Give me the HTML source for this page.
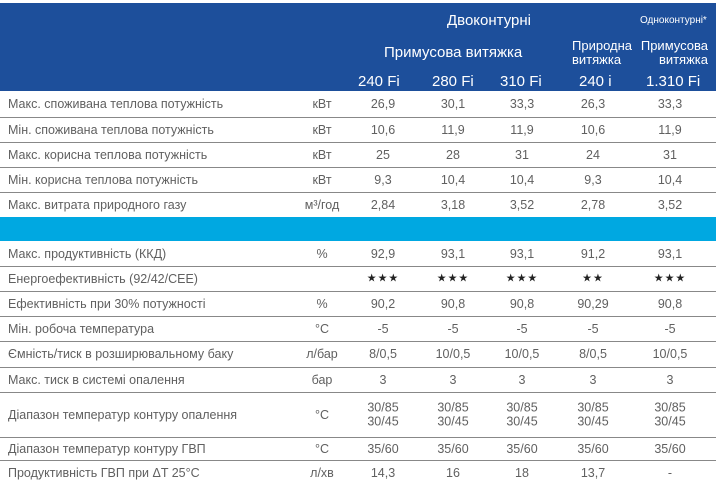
<!DOCTYPE html>
<html><head><meta charset="utf-8"><style>
body{margin:0;width:716px;height:485px;background:#fff;overflow:hidden;position:relative;font-family:"Liberation Sans","DejaVu Sans",sans-serif;}
.hd{position:absolute;left:0;top:3px;width:716px;height:88px;background:#1d4f9b;color:#fff;}
.hd span{position:absolute;white-space:nowrap;line-height:1;}
.r{position:absolute;left:0;width:716px;color:#606060;font-size:12.5px;}
.r span{position:absolute;top:50%;transform:translateY(-50%);white-space:nowrap;line-height:1.15;}
.l{left:8px;}
.u{left:292px;width:60px;text-align:center;}
.v{width:70px;text-align:center;}
.ln{position:absolute;left:0;width:716px;height:1px;background:#888;}
.st{font-size:11px;color:#222;letter-spacing:1px;}
</style></head><body>
<div class="hd">
<span style="left:447px;top:10px;font-size:15px;">Двоконтурні</span>
<span style="left:640px;top:13px;font-size:10px;">Одноконтурні*</span>
<span style="left:384px;top:42px;font-size:15px;">Примусова витяжка</span>
<span style="left:572px;top:36px;font-size:13px;text-align:right;width:42px;line-height:1.1;">Природна<br>витяжка</span>
<span style="left:646px;top:36px;font-size:13px;text-align:right;width:62px;line-height:1.1;direction:rtl;">Примусова<br>витяжка</span>
<span style="left:358px;top:71px;font-size:15px;">240 Fi</span>
<span style="left:432px;top:71px;font-size:15px;">280 Fi</span>
<span style="left:500px;top:71px;font-size:15px;">310 Fi</span>
<span style="left:579px;top:71px;font-size:15px;">240 i</span>
<span style="left:646px;top:71px;font-size:15px;">1.310 Fi</span>
</div>

<div class="r" style="top:91px;height:26px"><span class="l">Макс. споживана теплова потужність</span><span class="u">кВт</span><span class="v" style="left:348px">26,9</span><span class="v" style="left:418px">30,1</span><span class="v" style="left:487px">33,3</span><span class="v" style="left:558px">26,3</span><span class="v" style="left:635px">33,3</span></div>
<div class="ln" style="top:117px"></div>
<div class="r" style="top:117px;height:25px"><span class="l">Мін. споживана теплова потужність</span><span class="u">кВт</span><span class="v" style="left:348px">10,6</span><span class="v" style="left:418px">11,9</span><span class="v" style="left:487px">11,9</span><span class="v" style="left:558px">10,6</span><span class="v" style="left:635px">11,9</span></div>
<div class="ln" style="top:142px"></div>
<div class="r" style="top:142px;height:25px"><span class="l">Макс. корисна теплова потужність</span><span class="u">кВт</span><span class="v" style="left:348px">25</span><span class="v" style="left:418px">28</span><span class="v" style="left:487px">31</span><span class="v" style="left:558px">24</span><span class="v" style="left:635px">31</span></div>
<div class="ln" style="top:167px"></div>
<div class="r" style="top:167px;height:25px"><span class="l">Мін. корисна теплова потужність</span><span class="u">кВт</span><span class="v" style="left:348px">9,3</span><span class="v" style="left:418px">10,4</span><span class="v" style="left:487px">10,4</span><span class="v" style="left:558px">9,3</span><span class="v" style="left:635px">10,4</span></div>
<div class="ln" style="top:192px"></div>
<div class="r" style="top:192px;height:25px"><span class="l">Макс. витрата природного газу</span><span class="u">м³/год</span><span class="v" style="left:348px">2,84</span><span class="v" style="left:418px">3,18</span><span class="v" style="left:487px">3,52</span><span class="v" style="left:558px">2,78</span><span class="v" style="left:635px">3,52</span></div>
<div style="position:absolute;left:0;top:217px;width:716px;height:24px;background:#00a8e1"></div>
<div class="r" style="top:241px;height:25px"><span class="l">Макс. продуктивність (ККД)</span><span class="u">%</span><span class="v" style="left:348px">92,9</span><span class="v" style="left:418px">93,1</span><span class="v" style="left:487px">93,1</span><span class="v" style="left:558px">91,2</span><span class="v" style="left:635px">93,1</span></div>
<div class="ln" style="top:266px"></div>
<div class="r" style="top:266px;height:25px"><span class="l">Енергоефективність (92/42/CEE)</span><span class="v st" style="left:348px">★★★</span><span class="v st" style="left:418px">★★★</span><span class="v st" style="left:487px">★★★</span><span class="v st" style="left:558px">★★</span><span class="v st" style="left:635px">★★★</span></div>
<div class="ln" style="top:291px"></div>
<div class="r" style="top:291px;height:25px"><span class="l">Ефективність при 30% потужності</span><span class="u">%</span><span class="v" style="left:348px">90,2</span><span class="v" style="left:418px">90,8</span><span class="v" style="left:487px">90,8</span><span class="v" style="left:558px">90,29</span><span class="v" style="left:635px">90,8</span></div>
<div class="ln" style="top:316px"></div>
<div class="r" style="top:316px;height:25px"><span class="l">Мін. робоча температура</span><span class="u">°C</span><span class="v" style="left:348px">-5</span><span class="v" style="left:418px">-5</span><span class="v" style="left:487px">-5</span><span class="v" style="left:558px">-5</span><span class="v" style="left:635px">-5</span></div>
<div class="ln" style="top:341px"></div>
<div class="r" style="top:341px;height:26px"><span class="l">Ємність/тиск в розширювальному баку</span><span class="u">л/бар</span><span class="v" style="left:348px">8/0,5</span><span class="v" style="left:418px">10/0,5</span><span class="v" style="left:487px">10/0,5</span><span class="v" style="left:558px">8/0,5</span><span class="v" style="left:635px">10/0,5</span></div>
<div class="ln" style="top:367px"></div>
<div class="r" style="top:367px;height:25px"><span class="l">Макс. тиск в системі опалення</span><span class="u">бар</span><span class="v" style="left:348px">3</span><span class="v" style="left:418px">3</span><span class="v" style="left:487px">3</span><span class="v" style="left:558px">3</span><span class="v" style="left:635px">3</span></div>
<div class="ln" style="top:392px"></div>
<div class="r" style="top:392px;height:45px"><span class="l">Діапазон температур контуру опалення</span><span class="u">°C</span><span class="v" style="left:348px">30/85<br>30/45</span><span class="v" style="left:418px">30/85<br>30/45</span><span class="v" style="left:487px">30/85<br>30/45</span><span class="v" style="left:558px">30/85<br>30/45</span><span class="v" style="left:635px">30/85<br>30/45</span></div>
<div class="ln" style="top:437px"></div>
<div class="r" style="top:437px;height:23px"><span class="l">Діапазон температур контуру ГВП</span><span class="u">°C</span><span class="v" style="left:348px">35/60</span><span class="v" style="left:418px">35/60</span><span class="v" style="left:487px">35/60</span><span class="v" style="left:558px">35/60</span><span class="v" style="left:635px">35/60</span></div>
<div class="ln" style="top:460px"></div>
<div class="r" style="top:460px;height:25px"><span class="l">Продуктивність ГВП при ΔT 25°C</span><span class="u">л/хв</span><span class="v" style="left:348px">14,3</span><span class="v" style="left:418px">16</span><span class="v" style="left:487px">18</span><span class="v" style="left:558px">13,7</span><span class="v" style="left:635px">-</span></div>
</body></html>
